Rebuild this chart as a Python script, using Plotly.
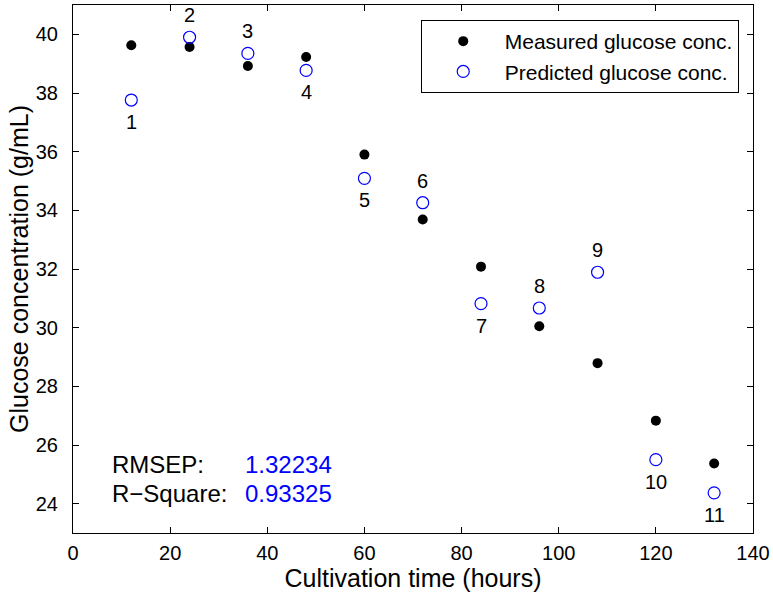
import plotly.graph_objects as go

time_h = [12, 24, 36, 48, 60, 72, 84, 96, 108, 120, 132]
measured = [39.63, 39.57, 38.92, 39.23, 35.90, 33.69, 32.08, 30.05, 28.79, 26.83, 25.37]
predicted = [37.76, 39.90, 39.35, 38.77, 35.09, 34.26, 30.82, 30.67, 31.89, 25.50, 24.37]
sample_ids = ["1", "2", "3", "4", "5", "6", "7", "8", "9", "10", "11"]
label_above = [False, True, True, False, False, True, False, True, True, False, False]
x_ticks = [0, 20, 40, 60, 80, 100, 120, 140]
y_ticks = [24, 26, 28, 30, 32, 34, 36, 38, 40]
stats_names = ["RMSEP:", "R\u2212Square:"]
stats_values = ["1.32234", "0.93325"]

FONT = "Liberation Sans, Arial, Helvetica, sans-serif"

fig = go.Figure()
fig.add_trace(go.Scatter(
    x=time_h, y=measured, mode="markers", name="Measured glucose conc.",
    marker=dict(symbol="circle", size=10, color="black", line=dict(width=0)),
))
fig.add_trace(go.Scatter(
    x=time_h, y=predicted, mode="markers", name="Predicted glucose conc.",
    marker=dict(symbol="circle-open", size=12, color="blue", line=dict(width=1.2, color="blue")),
))

for xv, yv, lab, above in zip(time_h, predicted, sample_ids, label_above):
    fig.add_annotation(x=xv, y=yv, text=lab, showarrow=False,
                       yshift=22 if above else -22,
                       font=dict(size=20, color="black", family=FONT))

stat_y = [25.32, 24.33]
for name, val, yv in zip(stats_names, stats_values, stat_y):
    fig.add_annotation(x=7.6, y=yv, text=name, showarrow=False, xanchor="left",
                       font=dict(size=24, color="black", family=FONT))
    fig.add_annotation(x=34.9, y=yv, text=val, showarrow=False, xanchor="left",
                       font=dict(size=24, color="blue", family=FONT))

axis_common = dict(
    showline=True, linecolor="black", linewidth=1, mirror="allticks",
    ticks="inside", ticklen=6, tickcolor="black", tickwidth=1,
    showgrid=False, zeroline=False,
    tickfont=dict(size=20, color="black", family=FONT),
)

fig.update_xaxes(range=[0, 140], tickvals=x_ticks, ticklabelstandoff=2,
                 title=dict(text="Cultivation time (hours)", standoff=0,
                            font=dict(size=25, color="black", family=FONT)),
                 **axis_common)
fig.update_yaxes(range=[23, 41], tickvals=y_ticks, ticklabelstandoff=10,
                 title=dict(text="Glucose concentration (g/mL)", standoff=0,
                            font=dict(size=25, color="black", family=FONT)),
                 **axis_common)

fig.update_layout(
    width=773, height=594,
    margin=dict(l=73, r=20, t=5, b=61, autoexpand=False),
    paper_bgcolor="white", plot_bgcolor="white",
    font=dict(family=FONT, color="black"),
    legend=dict(x=0.979, y=0.9716, xanchor="right", yanchor="top",
                bgcolor="white", bordercolor="black", borderwidth=1,
                font=dict(size=21, color="black", family=FONT),
                itemwidth=73, tracegroupgap=0),
    showlegend=True,
)

fig.write_html("out.html")
